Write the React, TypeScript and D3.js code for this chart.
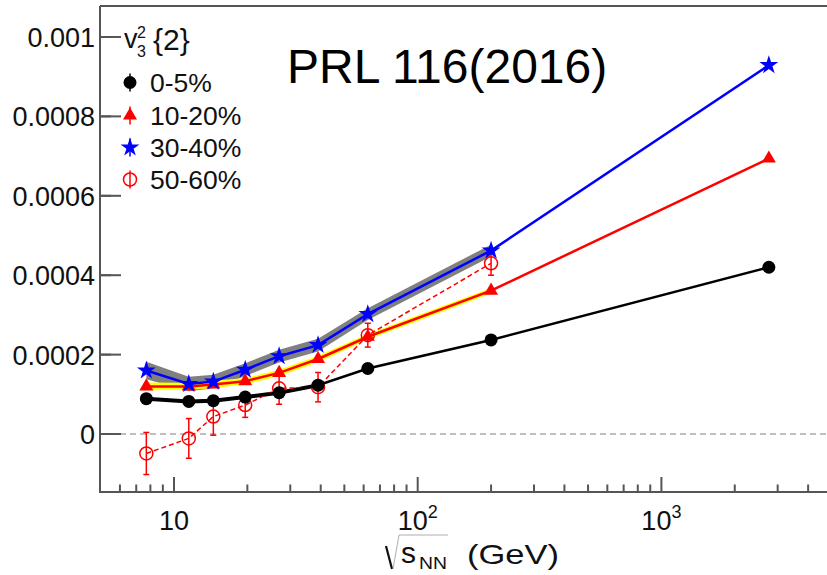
import React from 'react';
import * as d3 from 'd3';

// sqrt(s_NN) in GeV
const energies = [7.7, 11.5, 14.5, 19.6, 27, 39, 62.4, 200, 2760];
const starEnergies = [7.7, 11.5, 14.5, 19.6, 27, 39, 62.4, 200];

// v3^2{2}
const cent0to5 = [0.000089, 0.000082, 0.000084, 0.000093, 0.000104, 0.000123, 0.000165, 0.000237, 0.00042];
const cent10to20 = [0.00012, 0.00012, 0.000125, 0.000133, 0.000154, 0.000189, 0.000245, 0.000361, 0.000694];
const cent30to40 = [0.00016, 0.000126, 0.000132, 0.000162, 0.000196, 0.000224, 0.000302, 0.000462, 0.000929];
const cent50to60 = [-0.000049, -0.000011, 0.000044, 0.000073, 0.000115, 0.000118, 0.000249, 0.00043];
const err50to60 = [0.000053, 0.00005, 0.000047, 0.000031, 0.00004, 0.000037, 0.00003, 0.00003];

// systematic bands
const sys30to40 = [0.000022, 0.000018, 0.000017, 0.000016, 0.000016, 0.000016, 0.000015, 0.000015];
const sys10to20 = [0.00001, 0.000009, 0.000009, 0.000008, 0.000008, 0.000008, 0.000007, 0.000007];
const sys0to5 = [0.000005, 0.000005, 0.000005, 0.000005, 0.000005, 0.000005];

const yTickValues = [0, 0.0002, 0.0004, 0.0006, 0.0008, 0.001];
const yTickLabels = ['0', '0.0002', '0.0004', '0.0006', '0.0008', '0.001'];
const xMajor = [10, 100, 1000];
const xMajorBase = ['10', '10', '10'];
const xMajorExp = ['', '2', '3'];

const legendLabels = ['0-5%', '10-20%', '30-40%', '50-60%'];

const FONT = '"Liberation Sans", Arial, Helvetica, sans-serif';
const AX = '#555';

export default function App() {
  const W = 827, H = 575;
  const L = 100, R = 826, T = 6, B = 492;
  const x = d3.scaleLog().domain([4.97, 4736]).range([L, R]);
  const y = d3.scaleLinear().domain([-0.000146, 0.001078]).range([B, T]);

  const line = d3.line<[number, number]>().x(d => x(d[0])).y(d => y(d[1]));
  const band = (vals: number[], sys: number[]) =>
    d3.area<number>()
      .x((_, i) => x(starEnergies[i]))
      .y0((_, i) => y(vals[i] - sys[i]))
      .y1((_, i) => y(vals[i] + sys[i]))(sys) || '';

  const pts = (vals: number[], es: number[]) => vals.map((v, i) => [es[i], v] as [number, number]);

  const star = d3.symbol(d3.symbolStar, 110)() || '';
  const tri = d3.symbol(d3.symbolTriangle, 85)() || '';

  const minorX = x.ticks().filter(t => t > 5.2 && !xMajor.includes(t));
  const yAll = d3.range(-1, 11).map(i => i * 0.0001);
  const minorY = yAll.filter((_, i) => (i + 1) % 2 === 0);

  const legendY = [82.5, 115.5, 147.5, 179.5];

  return (
    <div style={{ position: 'absolute', left: 0, top: 0 }}>
      <svg width={W} height={H} style={{ display: 'block', background: '#fff' }} fontFamily={FONT}>
        <rect x={0} y={0} width={W} height={H} fill="#fff" />
        {/* zero line */}
        <line x1={L} x2={R} y1={y(0)} y2={y(0)} stroke="#aaa" strokeWidth={1.5} strokeDasharray="6,4" />

        {/* systematic bands */}
        <path d={band(cent30to40.slice(0, 8), sys30to40)} fill="#808080" />
        <path d={band(cent10to20.slice(0, 8), sys10to20)} fill="#ffff00" />
        <path d={band(cent0to5.slice(0, 6), sys0to5)} fill="#000" />

        {/* 50-60% */}
        <path d={line(pts(cent50to60, starEnergies)) || ''} fill="none" stroke="#ff0000" strokeWidth={1.5} strokeDasharray="5,3" />
        {cent50to60.map((v, i) => {
          const cx = x(starEnergies[i]);
          return (
            <g key={'e' + i} stroke="#ff0000" strokeWidth={1.5}>
              <line x1={cx} x2={cx} y1={y(v - err50to60[i])} y2={y(v + err50to60[i])} />
              <line x1={cx - 3} x2={cx + 3} y1={y(v - err50to60[i])} y2={y(v - err50to60[i])} />
              <line x1={cx - 3} x2={cx + 3} y1={y(v + err50to60[i])} y2={y(v + err50to60[i])} />
              <circle cx={cx} cy={y(v)} r={6.5} fill="none" />
            </g>
          );
        })}

        {/* 0-5% */}
        <path d={line(pts(cent0to5, energies)) || ''} fill="none" stroke="#000" strokeWidth={2.5} />
        {cent0to5.map((v, i) => (
          <circle key={'b' + i} cx={x(energies[i])} cy={y(v)} r={6.5} fill="#000" />
        ))}

        {/* 10-20% */}
        <path d={line(pts(cent10to20, energies)) || ''} fill="none" stroke="#ff0000" strokeWidth={2.5} />
        {cent10to20.map((v, i) => (
          <path key={'r' + i} d={tri} transform={`translate(${x(energies[i])},${y(v)})`} fill="#ff0000" />
        ))}

        {/* 30-40% */}
        <path d={line(pts(cent30to40, energies)) || ''} fill="none" stroke="#0000ff" strokeWidth={2.5} />
        {cent30to40.map((v, i) => (
          <path key={'s' + i} d={star} transform={`translate(${x(energies[i])},${y(v)})`} fill="#0000ff" />
        ))}

        {/* frame */}
        <line x1={L} x2={L} y1={T} y2={B} stroke={AX} strokeWidth={2} />
        <line x1={L} x2={W + 5} y1={T} y2={T} stroke={AX} strokeWidth={2} />
        <line x1={L - 1} x2={W + 5} y1={B} y2={B} stroke={AX} strokeWidth={2} />

        {/* y ticks */}
        {yTickValues.map(v => (
          <line key={'ym' + v} x1={L} x2={L + 21} y1={y(v)} y2={y(v)} stroke={AX} strokeWidth={2} />
        ))}
        {minorY.map(v => (
          <line key={'yn' + v} x1={L} x2={L + 11} y1={y(v)} y2={y(v)} stroke={AX} strokeWidth={2} />
        ))}
        {yTickValues.map((v, i) => (
          <text key={'yl' + v} x={95} y={y(v) + 10} textAnchor="end" fontSize={27} fill="#111">{yTickLabels[i]}</text>
        ))}

        {/* x ticks */}
        {xMajor.map(v => (
          <line key={'xm' + v} x1={x(v)} x2={x(v)} y1={B} y2={B - 15} stroke={AX} strokeWidth={2} />
        ))}
        {minorX.map(v => (
          <line key={'xn' + v} x1={x(v)} x2={x(v)} y1={B} y2={B - 7.5} stroke={AX} strokeWidth={2} />
        ))}
        {xMajor.map((v, i) => (
          <text key={'xl' + v} x={x(v)} y={530} textAnchor="middle" fontSize={27} fill="#111">
            {xMajorBase[i]}
            {xMajorExp[i] && <tspan fontSize={18} dy={-12}>{xMajorExp[i]}</tspan>}
          </text>
        ))}

        {/* x title */}
        <path d="M386,546 L392,569" stroke="#111" strokeWidth={2.2} fill="none" />
        <path d="M393,569 L399,535 L448,535" stroke="#999" strokeWidth={0.8} fill="none" />
        <text x={401} y={563} fontSize={30} fill="#111">s</text>
        <text x={419} y={569} fontSize={17} fill="#111" textLength={28} lengthAdjust="spacingAndGlyphs">NN</text>
        <text x={467} y={564} fontSize={28} fill="#111" textLength={92} lengthAdjust="spacingAndGlyphs">(GeV)</text>

        {/* legend */}
        <text x={124} y={48} fontSize={27} fill="#111">v</text>
        <text x={137} y={38} fontSize={16} fill="#111">2</text>
        <text x={137} y={57} fontSize={16} fill="#111">3</text>
        <text x={153} y={50} fontSize={30} fill="#111">{'{2}'}</text>

        <g>
          <line x1={130} x2={130} y1={legendY[0] - 9} y2={legendY[0] + 9} stroke="#000" strokeWidth={1.5} />
          <circle cx={130} cy={legendY[0]} r={6.5} fill="#000" />
          <line x1={130} x2={130} y1={legendY[1] - 9} y2={legendY[1] + 9} stroke="#ff0000" strokeWidth={1.5} />
          <path d={tri} transform={`translate(130,${legendY[1]})`} fill="#ff0000" />
          <line x1={130} x2={130} y1={legendY[2] - 9} y2={legendY[2] + 9} stroke="#0000ff" strokeWidth={1.5} />
          <path d={star} transform={`translate(130,${legendY[2]})`} fill="#0000ff" />
          <line x1={130} x2={130} y1={legendY[3] - 9} y2={legendY[3] + 9} stroke="#ff0000" strokeWidth={1.5} />
          <circle cx={130} cy={legendY[3]} r={6.5} fill="none" stroke="#ff0000" strokeWidth={1.5} />
          {legendLabels.map((l, i) => (
            <text key={l} x={150} y={legendY[i] + 9} fontSize={26.5} fill="#111">{l}</text>
          ))}
        </g>

        <text x={287} y={83} fontSize={48} fill="#000">PRL 116(2016)</text>
      </svg>
    </div>
  );
}
